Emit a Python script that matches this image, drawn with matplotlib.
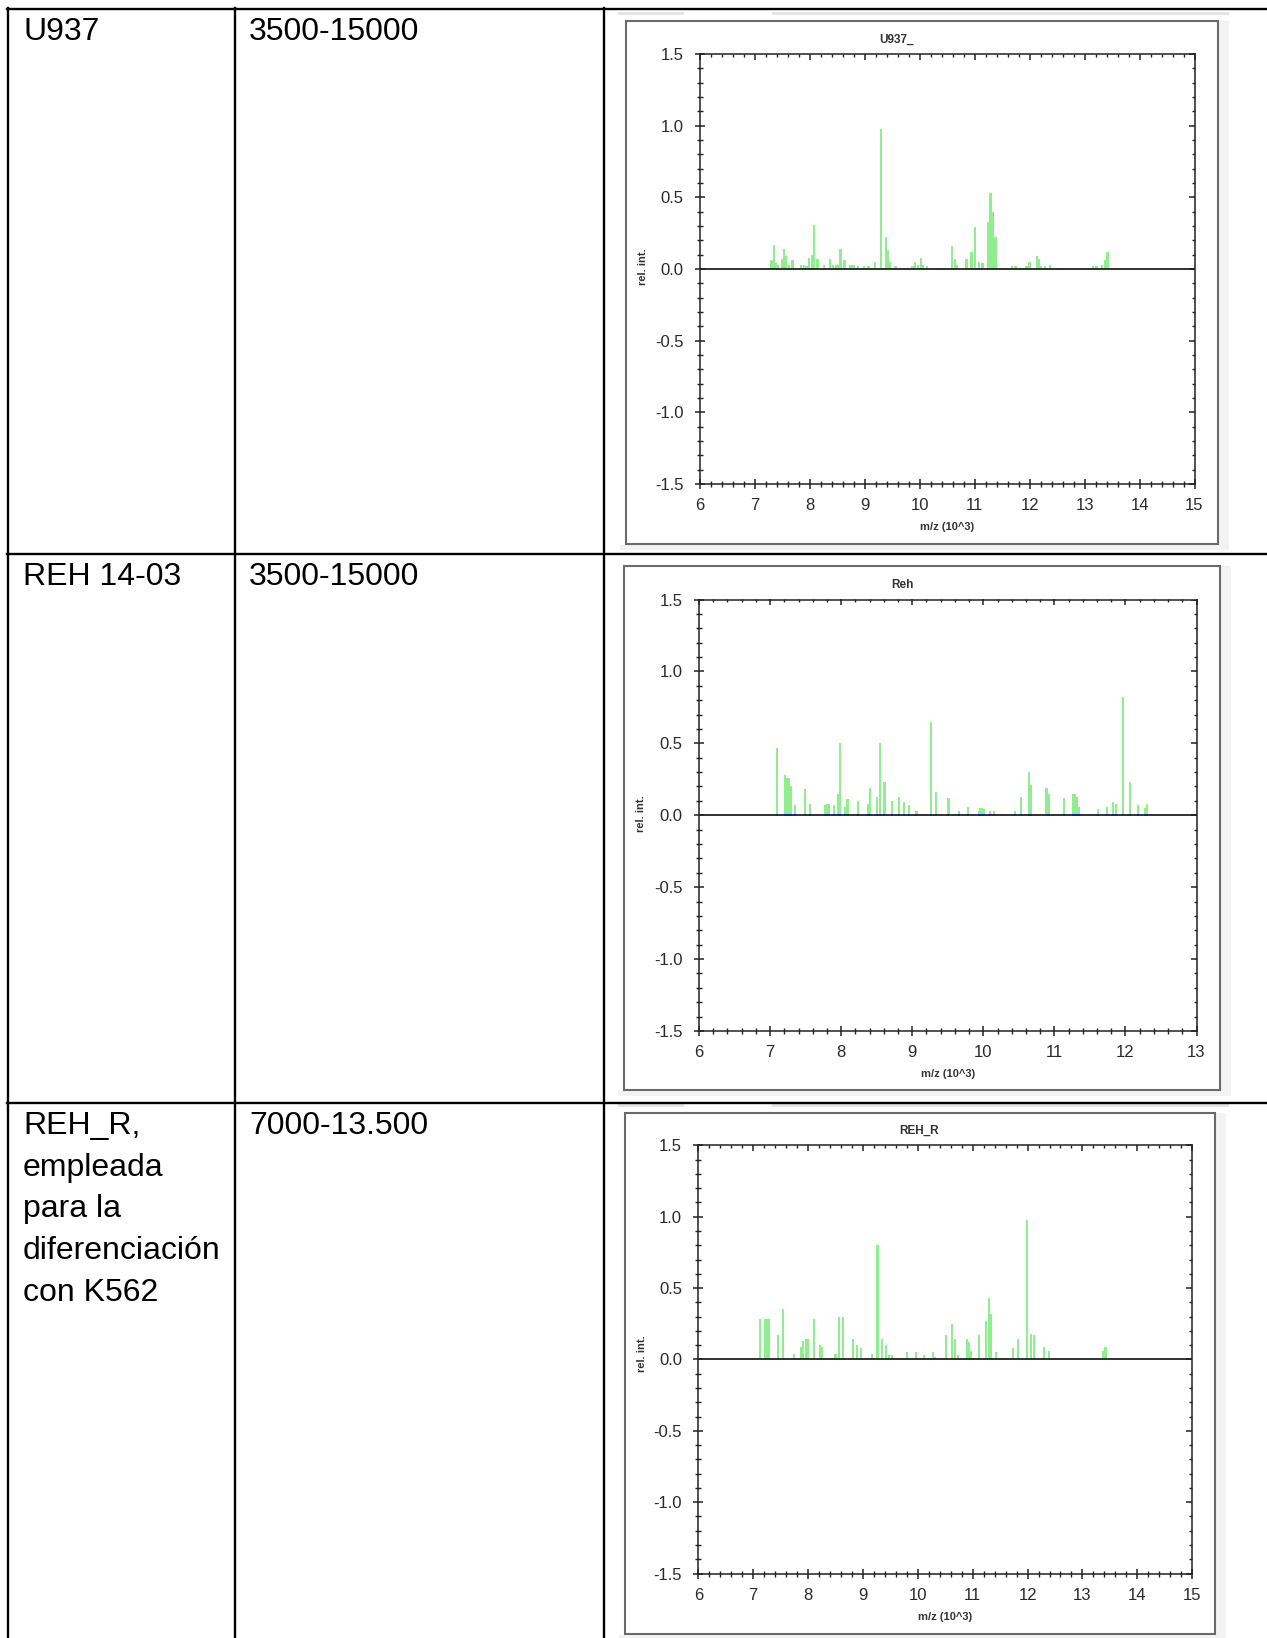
import matplotlib
matplotlib.use('Agg')
import matplotlib.pyplot as plt
from matplotlib.patches import Rectangle
from matplotlib.ticker import MultipleLocator

plt.rcParams['font.family'] = ['Liberation Sans', 'DejaVu Sans']
plt.rcParams['axes.unicode_minus'] = False

W, H = 1267, 1638

# table contents
row_names = [['U937'], ['REH 14-03'],
             ['REH_R,', 'empleada', 'para la', 'diferenciación', 'con K562']]
mass_ranges = ['3500-15000', '3500-15000', '7000-13.500']
titles = ['U937_', 'Reh', 'REH_R']
x_max = [15, 13, 15]

# spectra: m/z (10^3) and relative intensity
u937_mz = [7.30, 7.35, 7.38, 7.41, 7.49, 7.53, 7.56, 7.62, 7.68, 7.84, 7.89, 7.94,
           7.98, 8.04, 8.07, 8.14, 8.26, 8.37, 8.42, 8.48, 8.52, 8.56, 8.63, 8.74,
           8.79, 8.88, 8.99, 9.07, 9.18, 9.29, 9.38, 9.41, 9.46, 9.56, 9.80, 9.87,
           9.91, 9.97, 10.02, 10.06, 10.13, 10.38, 10.59, 10.64, 10.68, 10.85, 10.94,
           11.00, 11.08, 11.14, 11.25, 11.29, 11.33, 11.38, 11.68, 11.74, 11.94,
           12.00, 12.13, 12.16, 12.21, 12.28, 12.37, 12.57, 13.09, 13.15, 13.22,
           13.32, 13.37, 13.42]
u937_int = [0.06, 0.17, 0.04, 0.03, 0.07, 0.14, 0.09, 0.03, 0.06, 0.03, 0.03, 0.02,
            0.08, 0.10, 0.31, 0.07, 0.03, 0.07, 0.03, 0.03, 0.03, 0.14, 0.06, 0.03,
            0.03, 0.02, 0.02, 0.02, 0.05, 0.98, 0.22, 0.13, 0.05, 0.02, 0.01, 0.02,
            0.05, 0.03, 0.08, 0.03, 0.02, 0.01, 0.16, 0.07, 0.03, 0.07, 0.12,
            0.29, 0.05, 0.04, 0.33, 0.53, 0.40, 0.22, 0.02, 0.02, 0.02,
            0.05, 0.09, 0.07, 0.02, 0.02, 0.03, 0.01, 0.01, 0.02, 0.02,
            0.03, 0.06, 0.12]

reh_mz = [7.10, 7.21, 7.24, 7.27, 7.29, 7.35, 7.49, 7.56, 7.77, 7.80, 7.83, 7.90,
          7.95, 7.98, 8.05, 8.09, 8.24, 8.38, 8.41, 8.50, 8.55, 8.61, 8.71, 8.82,
          8.89, 8.96, 9.06, 9.26, 9.33, 9.51, 9.66, 9.79, 9.94, 9.96, 9.98, 10.01,
          10.09, 10.15, 10.45, 10.53, 10.64, 10.67, 10.89, 10.92, 11.14, 11.26,
          11.29, 11.32, 11.35, 11.61, 11.74, 11.82, 11.87, 11.97, 12.07, 12.18,
          12.28, 12.30]
reh_int = [0.47, 0.28, 0.26, 0.26, 0.20, 0.07, 0.18, 0.08, 0.07, 0.08, 0.08, 0.07,
           0.15, 0.50, 0.06, 0.11, 0.10, 0.08, 0.19, 0.13, 0.50, 0.23, 0.10, 0.13,
           0.09, 0.07, 0.03, 0.65, 0.16, 0.12, 0.03, 0.06, 0.03, 0.05, 0.05, 0.04,
           0.03, 0.03, 0.03, 0.13, 0.30, 0.21, 0.19, 0.15, 0.12, 0.15,
           0.15, 0.13, 0.06, 0.04, 0.06, 0.09, 0.08, 0.82, 0.23, 0.07,
           0.05, 0.08]

rehr_mz = [7.13, 7.21, 7.25, 7.28, 7.45, 7.54, 7.75, 7.87, 7.90, 7.96, 7.99, 8.10,
           8.22, 8.26, 8.50, 8.57, 8.64, 8.82, 8.90, 8.97, 9.16, 9.25, 9.28, 9.34,
           9.42, 9.48, 9.53, 9.57, 9.80, 9.96, 10.11, 10.28, 10.31, 10.52, 10.63,
           10.68, 10.74, 10.89, 10.94, 10.97, 11.12, 11.25, 11.30, 11.33, 11.43,
           11.49, 11.74, 11.83, 11.99, 12.07, 12.12, 12.30, 12.39, 13.16, 13.38, 13.42]
rehr_int = [0.28, 0.28, 0.28, 0.28, 0.17, 0.35, 0.04, 0.09, 0.13, 0.14, 0.14, 0.28,
            0.10, 0.09, 0.04, 0.30, 0.30, 0.14, 0.10, 0.08, 0.04, 0.80, 0.80, 0.14,
            0.10, 0.03, 0.03, 0.01, 0.05, 0.05, 0.03, 0.05, 0.02, 0.17, 0.25,
            0.14, 0.03, 0.14, 0.12, 0.06, 0.17, 0.27, 0.43, 0.32, 0.05,
            0.01, 0.08, 0.14, 0.98, 0.18, 0.17, 0.09, 0.06, 0.01, 0.06, 0.09]

spectra = [(u937_mz, u937_int), (reh_mz, reh_int), (rehr_mz, rehr_int)]

# layout in pixels (x0, y0, x1, y1), top-left origin
plot_boxes = [(700, 54, 1194.5, 484), (699, 599.5, 1196.5, 1031), (698.3, 1145.3, 1192.2, 1573.6)]
frames = [(625.5, 21, 1218, 543.8), (624, 565.5, 1220, 1090), (624.5, 1113, 1215, 1633.6)]
title_pos = [(897, 39.3), (902, 584.5), (919.5, 1131)]
xlabel_pos = [(947, 527), (948, 1074), (945, 1616.5)]
ylabel_pos = [(642.5, 267), (640.6, 814), (641.7, 1354)]
bar_widths = [0.044, 0.03, 0.037]
row_tops = [8.5, 553.8, 1102.5]

fig = plt.figure(figsize=(W / 100, H / 100), dpi=100)
bg = fig.add_axes([0, 0, 1, 1])
bg.set_xlim(0, W)
bg.set_ylim(H, 0)
bg.axis('off')

# faint screenshot chrome around the charts
for i, (x0, y0, x1, y1) in enumerate(frames):
    bg.add_patch(Rectangle((x1 + 1, y0), 10, y1 - y0 + 6, color='#f3f3f3', lw=0))
    bg.add_patch(Rectangle((x0 - 6, y1 + 1), x1 - x0 + 17, 5, color='#f3f3f3', lw=0))
    if i != 1:
        bg.add_patch(Rectangle((618, y0 - 9), 66, 3, color='#e4e4e4', lw=0))
        bg.add_patch(Rectangle((772, y0 - 9), 457, 3, color='#e4e4e4', lw=0))
    bg.add_patch(Rectangle((x0, y0), x1 - x0, y1 - y0, facecolor='white',
                           edgecolor='#6a6a6a', lw=1.5))

# table grid
lw_tab = 1.7
bg.plot([7, W], [8.5, 8.5], color='black', lw=lw_tab)
for y in row_tops[1:]:
    bg.plot([7, W], [y, y], color='black', lw=lw_tab)
for x in [7.5, 235, 603.5]:
    bg.plot([x, x], [8, H], color='black', lw=lw_tab)

# table text
for top, lines, rng in zip(row_tops, row_names, mass_ranges):
    base = top + 31.3
    for k, line in enumerate(lines):
        bg.text(23, base + k * 41.8, line, fontsize=23, va='baseline', ha='left', color='black')
    bg.text(249, base, rng, fontsize=23, va='baseline', ha='left', color='black')

for i in range(3):
    x0, y0, x1, y1 = plot_boxes[i]
    ax = fig.add_axes([x0 / W, 1 - y1 / H, (x1 - x0) / W, (y1 - y0) / H])
    ax.set_facecolor('none')
    mz, inten = spectra[i]
    ax.bar(mz, inten, width=bar_widths[i], color='#90ee90', edgecolor='none', zorder=2)
    ax.axhline(0, color='#222222', lw=1.3, zorder=3)
    if i == 1:
        ax.plot(mz, [0] * len(mz), 's', ms=1.6, color='#1c1c90', mew=0, zorder=4)
    ax.set_xlim(6, x_max[i])
    ax.set_ylim(-1.5, 1.5)
    ax.xaxis.set_major_locator(MultipleLocator(1))
    ax.xaxis.set_minor_locator(MultipleLocator(0.2))
    ax.yaxis.set_major_locator(MultipleLocator(0.5))
    ax.yaxis.set_minor_locator(MultipleLocator(0.1))
    ax.yaxis.set_major_formatter(matplotlib.ticker.FormatStrFormatter('%.1f'))
    for s in ax.spines.values():
        s.set_color('#222222')
        s.set_linewidth(1.1)
    ax.tick_params(which='both', direction='inout', colors='#222222', labelcolor='#2a2a2a',
                   labelsize=12, top=False, right=False)
    ax.tick_params(which='major', length=7.5, width=1.1)
    ax.tick_params(which='minor', length=4, width=1.0)
    ax.tick_params(axis='y', which='major', pad=8)
    ax.tick_params(axis='x', which='major', pad=6.5)

    sy = ax.secondary_yaxis('right')
    sy.yaxis.set_major_locator(MultipleLocator(0.5))
    sy.yaxis.set_minor_locator(MultipleLocator(0.1))
    sy.tick_params(which='both', direction='in', labelright=False, colors='#222222')
    sy.tick_params(which='major', length=4, width=1.1)
    sy.tick_params(which='minor', length=2.2, width=1.0)
    sy.spines['right'].set_visible(False)

    sx = ax.secondary_xaxis('top')
    sx.xaxis.set_major_locator(MultipleLocator(1))
    sx.xaxis.set_minor_locator(MultipleLocator(0.2))
    sx.tick_params(which='both', direction='in', labeltop=False, colors='#222222')
    sx.tick_params(which='major', length=4, width=1.1)
    sx.tick_params(which='minor', length=2.2, width=1.0)
    sx.spines['top'].set_visible(False)

    tx, ty = title_pos[i]
    bg.text(tx, ty, titles[i], fontsize=8.5, fontweight='bold', color='#333333',
            ha='center', va='center')
    lx, ly = xlabel_pos[i]
    bg.text(lx, ly, 'm/z (10^3)', fontsize=8, fontweight='bold', color='#333333',
            ha='center', va='center')
    yx, yy = ylabel_pos[i]
    bg.text(yx, yy, 'rel. int.', fontsize=8, fontweight='bold', color='#333333',
            ha='center', va='center', rotation=90)

fig.savefig('out.png', dpi=100)
